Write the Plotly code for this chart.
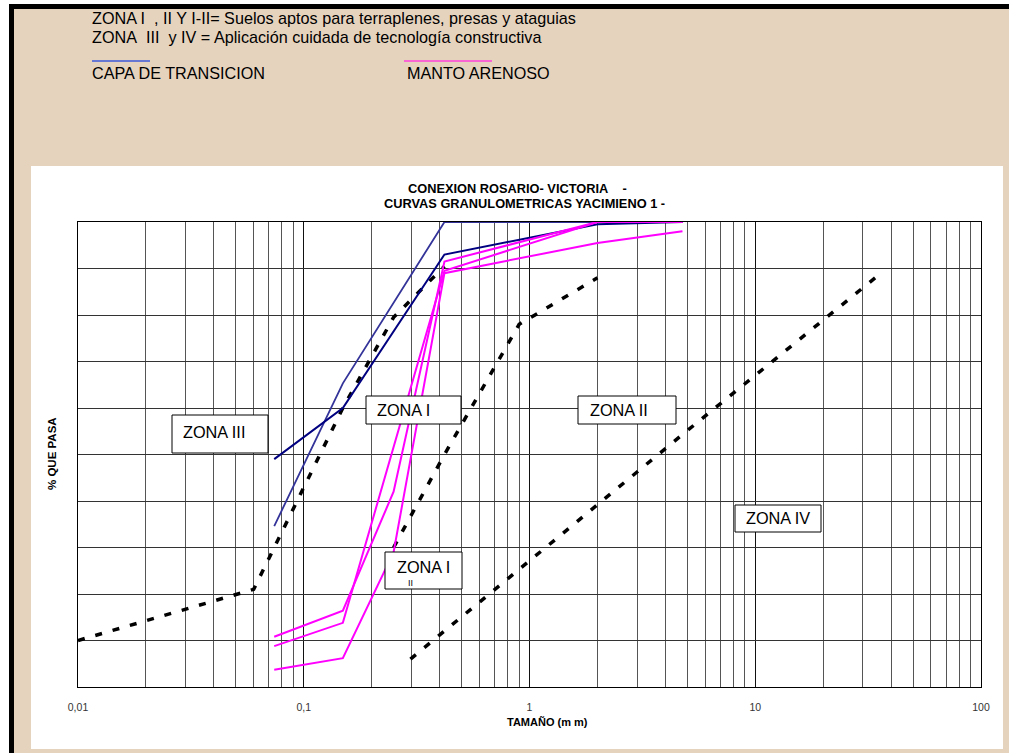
import plotly.graph_objects as go

# ---- Curvas granulométricas: tamaño (mm) vs % que pasa ----
# Capa de transición
capa_1_mm = [0.074, 0.149, 0.42, 2.0, 4.76]
capa_1_pct = [49.0, 60.0, 93.0, 99.5, 100.0]
capa_2_mm = [0.074, 0.149, 0.42, 2.0, 4.76]
capa_2_pct = [34.6, 65.3, 100.0, 100.0, 100.0]

# Manto arenoso
manto_1_mm = [0.074, 0.149, 0.25, 0.42, 2.0, 4.76]
manto_1_pct = [10.8, 16.4, 42.0, 91.5, 100.0, 100.0]
manto_2_mm = [0.074, 0.149, 0.42, 2.0, 4.76]
manto_2_pct = [8.8, 13.8, 89.5, 100.0, 100.0]
manto_3_mm = [0.074, 0.149, 0.25, 0.42, 2.0, 4.76]
manto_3_pct = [3.7, 6.2, 29.0, 89.0, 95.5, 98.0]

# Límites de zonas (curvas punteadas)
lim_a_mm = [0.01, 0.06, 0.149, 0.25, 0.42]
lim_a_pct = [10.0, 21.0, 60.0, 79.5, 90.5]
lim_b_mm = [0.25, 0.42, 0.9, 2.0]
lim_b_pct = [30.0, 50.0, 78.0, 88.0]
lim_c_mm = [0.297, 4.76, 35.0]
lim_c_pct = [6.0, 54.3, 88.5]

x_tick_vals = [0.01, 0.1, 1, 10, 100]
x_tick_text = ["0,01", "0,1", "1", "10", "100"]

FONT = "Liberation Sans, Arial, sans-serif"
W, H = 1009, 753
PL, PR, PT, PB = 78, 981, 222, 687   # plot area in pixels


def fx(xp):
    return (xp - PL) / (PR - PL)


def fy(yp):
    return (PB - yp) / (PB - PT)


fig = go.Figure()

dash_style = dict(color="black", width=3.5, dash="7px,11px")
for xs, ys in [(lim_a_mm, lim_a_pct), (lim_b_mm, lim_b_pct), (lim_c_mm, lim_c_pct)]:
    fig.add_trace(go.Scatter(x=xs, y=ys, mode="lines", line=dash_style,
                             hoverinfo="skip"))

fig.add_trace(go.Scatter(x=capa_2_mm, y=capa_2_pct, mode="lines",
                         line=dict(color="#333399", width=1.8), name="Capa de transición"))
fig.add_trace(go.Scatter(x=capa_1_mm, y=capa_1_pct, mode="lines",
                         line=dict(color="#000080", width=2), name="Capa de transición"))

for xs, ys in [(manto_1_mm, manto_1_pct), (manto_2_mm, manto_2_pct), (manto_3_mm, manto_3_pct)]:
    fig.add_trace(go.Scatter(x=xs, y=ys, mode="lines",
                             line=dict(color="#FF00FF", width=2), name="Manto arenoso"))

minor_vals = [d * 10.0 ** e for e in (-2, -1, 0, 1) for d in range(2, 10)]

fig.update_xaxes(
    type="log", range=[-2, 2],
    tickmode="array", tickvals=x_tick_vals, ticktext=x_tick_text,
    showgrid=True, gridcolor="#111111", gridwidth=1,
    minor=dict(tickmode="array", tickvals=minor_vals, showgrid=True,
               gridcolor="#555555", gridwidth=1, ticks=""),
    showline=True, linecolor="black", linewidth=1, mirror=True,
    ticks="outside", ticklen=10, tickcolor="rgba(0,0,0,0)",
    tickfont=dict(family=FONT, size=10.5, color="#333333"),
    zeroline=False,
)
fig.update_yaxes(
    range=[0, 100], tick0=0, dtick=10, showticklabels=False,
    showgrid=True, gridcolor="#333333", gridwidth=1,
    showline=True, linecolor="black", linewidth=1, mirror=True,
    ticks="", zeroline=False,
)

shapes = [
    # marco exterior negro, fondo beige y área blanca del gráfico
    dict(type="rect", xref="paper", yref="paper", layer="below",
         x0=fx(9), x1=fx(1020), y0=fy(4), y1=fy(770),
         fillcolor="black", line=dict(width=0)),
    dict(type="rect", xref="paper", yref="paper", layer="below",
         x0=fx(14), x1=fx(1020), y0=fy(9), y1=fy(770),
         fillcolor="#E6D3BE", line=dict(width=0)),
    dict(type="rect", xref="paper", yref="paper", layer="below",
         x0=fx(31), x1=fx(1003), y0=fy(166), y1=fy(749),
         fillcolor="white", line=dict(width=0)),
    # muestras de la leyenda
    dict(type="line", xref="paper", yref="paper",
         x0=fx(92), x1=fx(150), y0=fy(61), y1=fy(61),
         line=dict(color="#3A58D8", width=1.5)),
    dict(type="line", xref="paper", yref="paper",
         x0=fx(404), x1=fx(492), y0=fy(61), y1=fy(61),
         line=dict(color="#FF40D8", width=1.5)),
]

# cajas de rótulos de zonas: (izq, arriba, der, abajo)
zone_boxes = [(172, 415, 268, 453), (366, 396, 461, 424), (578, 396, 676, 424),
              (735, 505, 821, 532), (385, 552, 462, 589)]
for x0, y0, x1, y1 in zone_boxes:
    shapes.append(dict(type="rect", xref="paper", yref="paper", layer="above",
                       x0=fx(x0), x1=fx(x1), y0=fy(y0), y1=fy(y1),
                       fillcolor="white", line=dict(color="black", width=1)))

NB = "\u00a0"
annotations = []


def label(text, xp, yp, size, xanchor="left", bold=False, color="black"):
    annotations.append(dict(
        text=f"<b>{text}</b>" if bold else text,
        xref="paper", yref="paper", x=fx(xp), y=fy(yp),
        xanchor=xanchor, yanchor="middle", showarrow=False,
        font=dict(family=FONT, size=size, color=color)))


label(f"ZONA I{NB}{NB}, II Y I-II= Suelos aptos para terraplenes, presas y ataguias", 90, 18, 16.2)
label(f"ZONA{NB}{NB}III{NB}{NB}y IV = Aplicación cuidada de tecnología constructiva", 90, 37, 16.2)
label("CAPA DE TRANSICION", 90, 73, 16.2)
label("MANTO ARENOSO", 405, 73, 16.2)

label(f"CONEXION ROSARIO- VICTORIA{NB}{NB}{NB}{NB}-", 517, 188, 12.8, "center", True)
label("CURVAS GRANULOMETRICAS YACIMIENO 1 -", 524, 204, 12.8, "center", True)

label("ZONA III", 181, 432, 16.3)
label("ZONA I", 375, 410, 16.3)
label("ZONA II", 588, 410, 16.3)
label("ZONA IV", 744, 518, 16.3)
label("ZONA I", 395, 567, 16.3)
label("II", 406, 583, 9)

label("TAMAÑO (m m)", 547, 722, 11, "center", True)
annotations.append(dict(
    text="<b>% QUE PASA</b>", xref="paper", yref="paper",
    x=fx(52), y=fy(454), xanchor="center", yanchor="middle",
    textangle=-90, showarrow=False,
    font=dict(family=FONT, size=11.5, color="black")))

fig.update_layout(
    width=W, height=H, autosize=False,
    margin=dict(l=PL, r=W - PR, t=PT, b=H - PB, pad=0),
    paper_bgcolor="white", plot_bgcolor="white",
    showlegend=False,
    shapes=shapes, annotations=annotations,
)

fig.write_html("out.html")
